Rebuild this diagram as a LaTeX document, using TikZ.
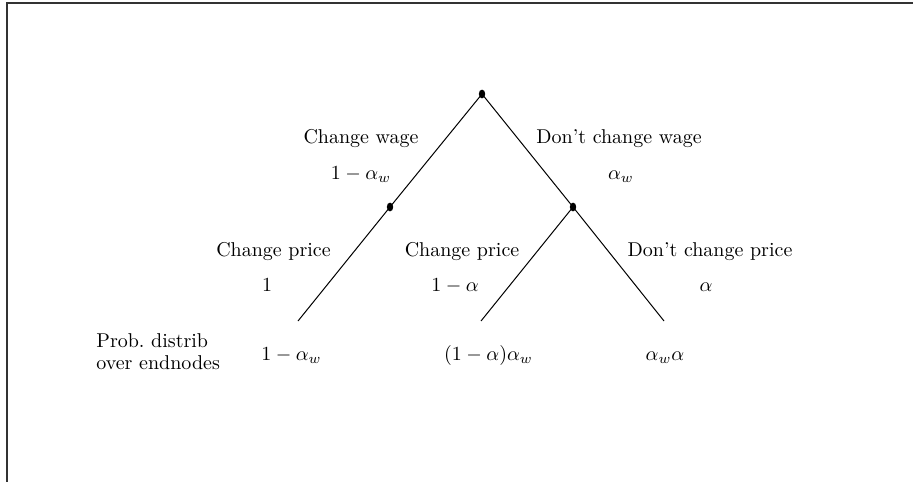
\documentclass[tikz,border=0pt]{standalone}
\usetikzlibrary{shapes.geometric}
\begin{document}
\begin{tikzpicture}[x=0.5pt,y=-0.5pt,
  dotnode/.style={ellipse,fill=black,inner sep=0pt,minimum width=3.2pt,minimum height=4.4pt},
  lbl/.style={inner sep=0pt,anchor=base},
  branch/.style={line width=0.5pt}]
\useasboundingbox (0,0) rectangle (913,482);
\draw[line width=0.6pt,black!80] (913,3) -- (7,3) -- (7,482);
% tree nodes
\node[dotnode] (top) at (482,94) {};
\node[dotnode] (ml) at (390,207) {};
\node[dotnode] (mr) at (573,207) {};
\coordinate (e1) at (298,321);
\coordinate (e2) at (481,321);
\coordinate (e3) at (664,321);
\draw[branch] (top.center) -- (ml.center);
\draw[branch] (top.center) -- (mr.center);
\draw[branch] (ml.center) -- (e1);
\draw[branch] (mr.center) -- (e2);
\draw[branch] (mr.center) -- (e3);
% labels
\node[lbl] (cw) at (361,143) {Change wage};
\node[lbl] (cwp) at (361,179) {$1-\alpha_w$};
\node[lbl] (dw) at (619,143) {Don't change wage};
\node[lbl] (dwp) at (621,179) {$\alpha_w$};
\node[lbl] (cp1) at (273.5,256.5) {Change price};
\node[lbl] (cp1p) at (267,291.5) {$1$};
\node[lbl] (cp2) at (462,256.5) {Change price};
\node[lbl] (cp2p) at (455,291.5) {$1-\alpha$};
\node[lbl] (dp) at (710,256.5) {Don't change price};
\node[lbl] (dpp) at (706,291.5) {$\alpha$};
\node[lbl] (r1) at (291.5,360.5) {$1-\alpha_w$};
\node[lbl] (r2) at (488.5,360.5) {$(1-\alpha)\alpha_w$};
\node[lbl] (r3) at (665,360.5) {$\alpha_w\alpha$};
\node[inner sep=0pt,anchor=base west,align=left] (prob) at (96,369.3) {Prob.\ distrib\\[-1.3pt]over endnodes};
\end{tikzpicture}
\end{document}
